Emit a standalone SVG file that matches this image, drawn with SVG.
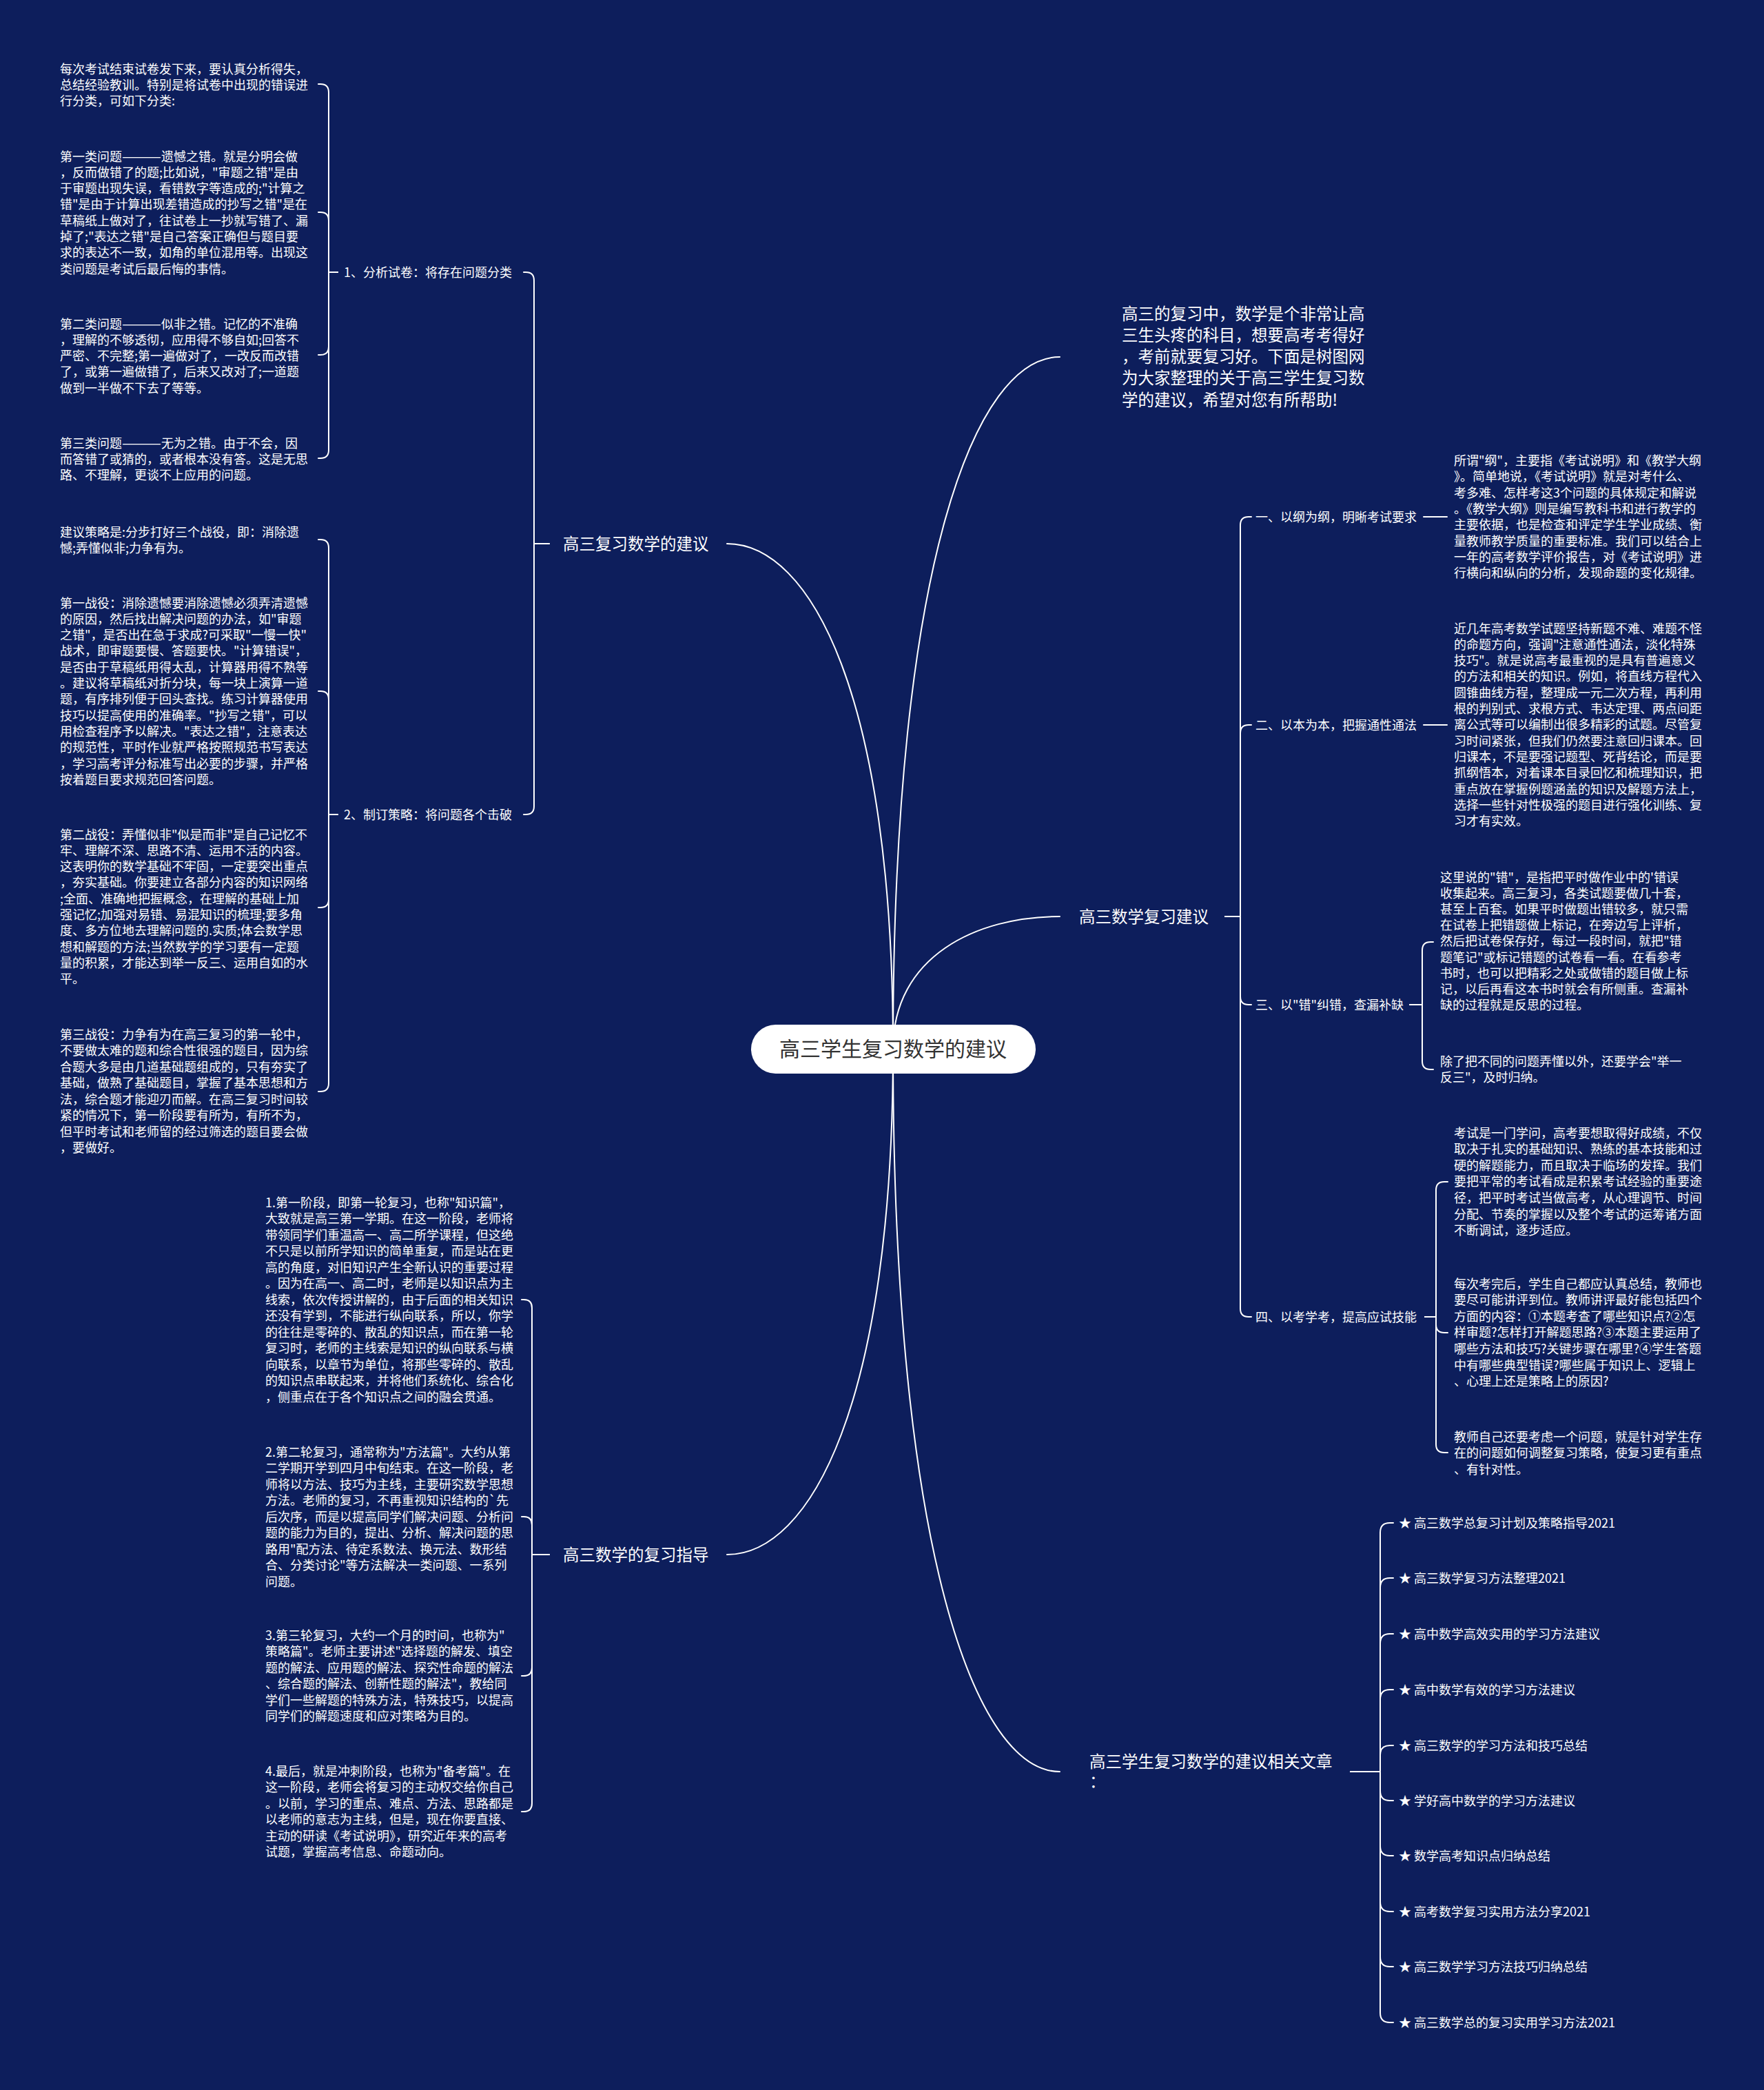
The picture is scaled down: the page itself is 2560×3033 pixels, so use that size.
<svg xmlns="http://www.w3.org/2000/svg" width="2560" height="3033" viewBox="0 0 2560 3033">
<style>
text{font-family:"Noto Sans CJK SC","Noto Sans",sans-serif;fill:#ffffff}
.s{font-size:18px}
.b{font-size:23.5px}
.c{font-size:30px;fill:#333333}
.ln{fill:none;stroke:#ffffff;stroke-width:2;stroke-linecap:round}
</style>
<rect width="2560" height="3033" fill="#0d1e5c"/>
<g id="connectors" class="ln">
<path d="M1296 1522 C1296 813 1417 518 1538 518"/>
<path d="M1296 1522 C1296 1009 1176 789 1055 789"/>
<path d="M1296 1522 C1296 1388 1417 1330 1538 1330"/>
<path d="M1296 1522 C1296 2036 1176 2256 1055 2256"/>
<path d="M1296 1522 C1296 2256 1417 2571 1538 2571"/>
<path d="M797 789 H775 V407 Q775 395 763 395 H760"/>
<path d="M797 789 H775 V1170 Q775 1182 763 1182 H760"/>
<path d="M490 395 H477 V134 Q477 122 465 122 H462"/>
<path d="M490 395 H477 V320 Q477 308 465 308 H462"/>
<path d="M490 395 H477 V503 Q477 515 465 515 H462"/>
<path d="M490 395 H477 V653 Q477 665 465 665 H462"/>
<path d="M490 1182 H477 V795 Q477 783 465 783 H462"/>
<path d="M490 1182 H477 V1015 Q477 1003 465 1003 H462"/>
<path d="M490 1182 H477 V1305 Q477 1317 465 1317 H462"/>
<path d="M490 1182 H477 V1572 Q477 1584 465 1584 H462"/>
<path d="M797 2256 H772 V1898 Q772 1886 760 1886 H757"/>
<path d="M797 2256 H772 V2213 Q772 2201 760 2201 H757"/>
<path d="M797 2256 H772 V2420 Q772 2432 760 2432 H757"/>
<path d="M797 2256 H772 V2617 Q772 2629 760 2629 H757"/>
<path d="M1778 1330 H1800 V762 Q1800 750 1812 750 H1816"/>
<path d="M1778 1330 H1800 V1064 Q1800 1052 1812 1052 H1816"/>
<path d="M1778 1330 H1800 V1446 Q1800 1458 1812 1458 H1816"/>
<path d="M1778 1330 H1800 V1899 Q1800 1911 1812 1911 H1816"/>
<path d="M2066 750 H2100"/>
<path d="M2066 1052 H2100"/>
<path d="M2046 1458 H2064 V1379 Q2064 1367 2076 1367 H2080"/>
<path d="M2046 1458 H2064 V1540 Q2064 1552 2076 1552 H2080"/>
<path d="M2068 1911 H2084 V1727 Q2084 1715 2096 1715 H2101"/>
<path d="M2068 1911 H2084 V1922 Q2084 1934 2096 1934 H2101"/>
<path d="M2068 1911 H2084 V2096 Q2084 2108 2096 2108 H2101"/>
<path d="M1960 2571 H2003 V2224 Q2003 2210 2017 2210 H2022"/>
<path d="M1960 2571 H2003 V2304 Q2003 2290 2017 2290 H2022"/>
<path d="M1960 2571 H2003 V2385 Q2003 2371 2017 2371 H2022"/>
<path d="M1960 2571 H2003 V2466 Q2003 2452 2017 2452 H2022"/>
<path d="M1960 2571 H2003 V2547 Q2003 2533 2017 2533 H2022"/>
<path d="M1960 2571 H2003 V2599 Q2003 2613 2017 2613 H2022"/>
<path d="M1960 2571 H2003 V2679 Q2003 2693 2017 2693 H2022"/>
<path d="M1960 2571 H2003 V2760 Q2003 2774 2017 2774 H2022"/>
<path d="M1960 2571 H2003 V2840 Q2003 2854 2017 2854 H2022"/>
<path d="M1960 2571 H2003 V2921 Q2003 2935 2017 2935 H2022"/>
</g>
<g id="root">
<rect x="1090" y="1487" width="413" height="71" rx="35.5" fill="#ffffff"/>
<text class="c" x="1296" y="1533" text-anchor="middle">高三学生复习数学的建议</text>
</g>
<g id="intro">
<text class="b" x="1628" y="463.5"><tspan x="1628">高三的复习中，数学是个非常让高</tspan><tspan x="1628" dy="31.3">三生头疼的科目，想要高考考得好</tspan><tspan x="1628" dy="31.3">，考前就要复习好。下面是树图网</tspan><tspan x="1628" dy="31.3">为大家整理的关于高三学生复习数</tspan><tspan x="1628" dy="31.3">学的建议，希望对您有所帮助!</tspan></text>
</g>
<g id="b1"><text class="b" x="817" y="797.5">高三复习数学的建议</text></g>
<g id="b1-1"><text class="s" x="499" y="401.5">1、分析试卷：将存在问题分类</text></g>
<g id="b1-1a"><text class="s" x="87" y="106.5"><tspan x="87">每次考试结束试卷发下来，要认真分析得失，</tspan><tspan x="87" dy="23.33">总结经验教训。特别是将试卷中出现的错误进</tspan><tspan x="87" dy="23.33">行分类，可如下分类:</tspan></text></g>
<g id="b1-1b"><text class="s" x="87" y="233.5"><tspan x="87">第一类问题<tspan textLength="57" lengthAdjust="spacingAndGlyphs">———</tspan>遗憾之错。就是分明会做</tspan><tspan x="87" dy="23.33">，反而做错了的题;比如说，"审题之错"是由</tspan><tspan x="87" dy="23.33">于审题出现失误，看错数字等造成的;"计算之</tspan><tspan x="87" dy="23.33">错"是由于计算出现差错造成的抄写之错"是在</tspan><tspan x="87" dy="23.33">草稿纸上做对了，往试卷上一抄就写错了、漏</tspan><tspan x="87" dy="23.33">掉了;"表达之错"是自己答案正确但与题目要</tspan><tspan x="87" dy="23.33">求的表达不一致，如角的单位混用等。出现这</tspan><tspan x="87" dy="23.33">类问题是考试后最后悔的事情。</tspan></text></g>
<g id="b1-1c"><text class="s" x="87" y="476.5"><tspan x="87">第二类问题<tspan textLength="57" lengthAdjust="spacingAndGlyphs">———</tspan>似非之错。记忆的不准确</tspan><tspan x="87" dy="23.33">，理解的不够透彻，应用得不够自如;回答不</tspan><tspan x="87" dy="23.33">严密、不完整;第一遍做对了，一改反而改错</tspan><tspan x="87" dy="23.33">了，或第一遍做错了，后来又改对了;一道题</tspan><tspan x="87" dy="23.33">做到一半做不下去了等等。</tspan></text></g>
<g id="b1-1d"><text class="s" x="87" y="649.5"><tspan x="87">第三类问题<tspan textLength="57" lengthAdjust="spacingAndGlyphs">———</tspan>无为之错。由于不会，因</tspan><tspan x="87" dy="23.33">而答错了或猜的，或者根本没有答。这是无思</tspan><tspan x="87" dy="23.33">路、不理解，更谈不上应用的问题。</tspan></text></g>
<g id="b1-2"><text class="s" x="499" y="1188.5">2、制订策略：将问题各个击破</text></g>
<g id="b1-2a"><text class="s" x="87" y="778.5"><tspan x="87">建议策略是:分步打好三个战役，即：消除遗</tspan><tspan x="87" dy="23.33">憾;弄懂似非;力争有为。</tspan></text></g>
<g id="b1-2b"><text class="s" x="87" y="881.5"><tspan x="87">第一战役：消除遗憾要消除遗憾必须弄清遗憾</tspan><tspan x="87" dy="23.33">的原因，然后找出解决问题的办法，如"审题</tspan><tspan x="87" dy="23.33">之错"，是否出在急于求成?可采取"一慢一快"</tspan><tspan x="87" dy="23.33">战术，即审题要慢、答题要快。"计算错误"，</tspan><tspan x="87" dy="23.33">是否由于草稿纸用得太乱，计算器用得不熟等</tspan><tspan x="87" dy="23.33">。建议将草稿纸对折分块，每一块上演算一道</tspan><tspan x="87" dy="23.33">题，有序排列便于回头查找。练习计算器使用</tspan><tspan x="87" dy="23.33">技巧以提高使用的准确率。"抄写之错"，可以</tspan><tspan x="87" dy="23.33">用检查程序予以解决。"表达之错"，注意表达</tspan><tspan x="87" dy="23.33">的规范性，平时作业就严格按照规范书写表达</tspan><tspan x="87" dy="23.33">，学习高考评分标准写出必要的步骤，并严格</tspan><tspan x="87" dy="23.33">按着题目要求规范回答问题。</tspan></text></g>
<g id="b1-2c"><text class="s" x="87" y="1217.5"><tspan x="87">第二战役：弄懂似非"似是而非"是自己记忆不</tspan><tspan x="87" dy="23.33">牢、理解不深、思路不清、运用不活的内容。</tspan><tspan x="87" dy="23.33">这表明你的数学基础不牢固，一定要突出重点</tspan><tspan x="87" dy="23.33">，夯实基础。你要建立各部分内容的知识网络</tspan><tspan x="87" dy="23.33">;全面、准确地把握概念，在理解的基础上加</tspan><tspan x="87" dy="23.33">强记忆;加强对易错、易混知识的梳理;要多角</tspan><tspan x="87" dy="23.33">度、多方位地去理解问题的.实质;体会数学思</tspan><tspan x="87" dy="23.33">想和解题的方法;当然数学的学习要有一定题</tspan><tspan x="87" dy="23.33">量的积累，才能达到举一反三、运用自如的水</tspan><tspan x="87" dy="23.33">平。</tspan></text></g>
<g id="b1-2d"><text class="s" x="87" y="1507.5"><tspan x="87">第三战役：力争有为在高三复习的第一轮中，</tspan><tspan x="87" dy="23.5">不要做太难的题和综合性很强的题目，因为综</tspan><tspan x="87" dy="23.5">合题大多是由几道基础题组成的，只有夯实了</tspan><tspan x="87" dy="23.5">基础，做熟了基础题目，掌握了基本思想和方</tspan><tspan x="87" dy="23.5">法，综合题才能迎刃而解。在高三复习时间较</tspan><tspan x="87" dy="23.5">紧的情况下，第一阶段要有所为，有所不为，</tspan><tspan x="87" dy="23.5">但平时考试和老师留的经过筛选的题目要会做</tspan><tspan x="87" dy="23.5">，要做好。</tspan></text></g>
<g id="b2"><text class="b" x="817" y="2264.5">高三数学的复习指导</text></g>
<g id="b2-1"><text class="s" x="385" y="1751.5"><tspan x="385">1.第一阶段，即第一轮复习，也称"知识篇"，</tspan><tspan x="385" dy="23.5">大致就是高三第一学期。在这一阶段，老师将</tspan><tspan x="385" dy="23.5">带领同学们重温高一、高二所学课程，但这绝</tspan><tspan x="385" dy="23.5">不只是以前所学知识的简单重复，而是站在更</tspan><tspan x="385" dy="23.5">高的角度，对旧知识产生全新认识的重要过程</tspan><tspan x="385" dy="23.5">。因为在高一、高二时，老师是以知识点为主</tspan><tspan x="385" dy="23.5">线索，依次传授讲解的，由于后面的相关知识</tspan><tspan x="385" dy="23.5">还没有学到，不能进行纵向联系，所以，你学</tspan><tspan x="385" dy="23.5">的往往是零碎的、散乱的知识点，而在第一轮</tspan><tspan x="385" dy="23.5">复习时，老师的主线索是知识的纵向联系与横</tspan><tspan x="385" dy="23.5">向联系，以章节为单位，将那些零碎的、散乱</tspan><tspan x="385" dy="23.5">的知识点串联起来，并将他们系统化、综合化</tspan><tspan x="385" dy="23.5">，侧重点在于各个知识点之间的融会贯通。</tspan></text></g>
<g id="b2-2"><text class="s" x="385" y="2113.5"><tspan x="385">2.第二轮复习，通常称为"方法篇"。大约从第</tspan><tspan x="385" dy="23.5">二学期开学到四月中旬结束。在这一阶段，老</tspan><tspan x="385" dy="23.5">师将以方法、技巧为主线，主要研究数学思想</tspan><tspan x="385" dy="23.5">方法。老师的复习，不再重视知识结构的`先</tspan><tspan x="385" dy="23.5">后次序，而是以提高同学们解决问题、分析问</tspan><tspan x="385" dy="23.5">题的能力为目的，提出、分析、解决问题的思</tspan><tspan x="385" dy="23.5">路用"配方法、待定系数法、换元法、数形结</tspan><tspan x="385" dy="23.5">合、分类讨论"等方法解决一类问题、一系列</tspan><tspan x="385" dy="23.5">问题。</tspan></text></g>
<g id="b2-3"><text class="s" x="385" y="2379.5"><tspan x="385">3.第三轮复习，大约一个月的时间，也称为"</tspan><tspan x="385" dy="23.5">策略篇"。老师主要讲述"选择题的解发、填空</tspan><tspan x="385" dy="23.5">题的解法、应用题的解法、探究性命题的解法</tspan><tspan x="385" dy="23.5">、综合题的解法、创新性题的解法"，教给同</tspan><tspan x="385" dy="23.5">学们一些解题的特殊方法，特殊技巧，以提高</tspan><tspan x="385" dy="23.5">同学们的解题速度和应对策略为目的。</tspan></text></g>
<g id="b2-4"><text class="s" x="385" y="2576.5"><tspan x="385">4.最后，就是冲刺阶段，也称为"备考篇"。在</tspan><tspan x="385" dy="23.5">这一阶段，老师会将复习的主动权交给你自己</tspan><tspan x="385" dy="23.5">。以前，学习的重点、难点、方法、思路都是</tspan><tspan x="385" dy="23.5">以老师的意志为主线，但是，现在你要直接、</tspan><tspan x="385" dy="23.5">主动的研读《考试说明》，研究近年来的高考</tspan><tspan x="385" dy="23.5">试题，掌握高考信息、命题动向。</tspan></text></g>
<g id="b3"><text class="b" x="1566" y="1338.5">高三数学复习建议</text></g>
<g id="b3-1"><text class="s" x="1822" y="756.5">一、以纲为纲，明晰考试要求</text></g>
<g id="b3-1a"><text class="s" x="2110" y="675"><tspan x="2110">所谓"纲"，主要指《考试说明》和《教学大纲</tspan><tspan x="2110" dy="23.3">》。简单地说，《考试说明》就是对考什么、</tspan><tspan x="2110" dy="23.3">考多难、怎样考这3个问题的具体规定和解说</tspan><tspan x="2110" dy="23.3">。《教学大纲》则是编写教科书和进行教学的</tspan><tspan x="2110" dy="23.3">主要依据，也是检查和评定学生学业成绩、衡</tspan><tspan x="2110" dy="23.3">量教师教学质量的重要标准。我们可以结合上</tspan><tspan x="2110" dy="23.3">一年的高考数学评价报告，对《考试说明》进</tspan><tspan x="2110" dy="23.3">行横向和纵向的分析，发现命题的变化规律。</tspan></text></g>
<g id="b3-2"><text class="s" x="1822" y="1058.5">二、以本为本，把握通性通法</text></g>
<g id="b3-2a"><text class="s" x="2110" y="918.5"><tspan x="2110">近几年高考数学试题坚持新题不难、难题不怪</tspan><tspan x="2110" dy="23.3">的命题方向，强调"注意通性通法，淡化特殊</tspan><tspan x="2110" dy="23.3">技巧"。就是说高考最重视的是具有普遍意义</tspan><tspan x="2110" dy="23.3">的方法和相关的知识。例如，将直线方程代入</tspan><tspan x="2110" dy="23.3">圆锥曲线方程，整理成一元二次方程，再利用</tspan><tspan x="2110" dy="23.3">根的判别式、求根方式、韦达定理、两点间距</tspan><tspan x="2110" dy="23.3">离公式等可以编制出很多精彩的试题。尽管复</tspan><tspan x="2110" dy="23.3">习时间紧张，但我们仍然要注意回归课本。回</tspan><tspan x="2110" dy="23.3">归课本，不是要强记题型、死背结论，而是要</tspan><tspan x="2110" dy="23.3">抓纲悟本，对着课本目录回忆和梳理知识，把</tspan><tspan x="2110" dy="23.3">重点放在掌握例题涵盖的知识及解题方法上，</tspan><tspan x="2110" dy="23.3">选择一些针对性极强的题目进行强化训练、复</tspan><tspan x="2110" dy="23.3">习才有实效。</tspan></text></g>
<g id="b3-3"><text class="s" x="1822" y="1464.5">三、以"错"纠错，查漏补缺</text></g>
<g id="b3-3a"><text class="s" x="2090" y="1279.5"><tspan x="2090">这里说的"错"，是指把平时做作业中的'错误</tspan><tspan x="2090" dy="23.2">收集起来。高三复习，各类试题要做几十套，</tspan><tspan x="2090" dy="23.2">甚至上百套。如果平时做题出错较多，就只需</tspan><tspan x="2090" dy="23.2">在试卷上把错题做上标记，在旁边写上评析，</tspan><tspan x="2090" dy="23.2">然后把试卷保存好，每过一段时间，就把"错</tspan><tspan x="2090" dy="23.2">题笔记"或标记错题的试卷看一看。在看参考</tspan><tspan x="2090" dy="23.2">书时，也可以把精彩之处或做错的题目做上标</tspan><tspan x="2090" dy="23.2">记，以后再看这本书时就会有所侧重。查漏补</tspan><tspan x="2090" dy="23.2">缺的过程就是反思的过程。</tspan></text></g>
<g id="b3-3b"><text class="s" x="2090" y="1546.5"><tspan x="2090">除了把不同的问题弄懂以外，还要学会"举一</tspan><tspan x="2090" dy="23.2">反三"，及时归纳。</tspan></text></g>
<g id="b3-4"><text class="s" x="1822" y="1917.5">四、以考学考，提高应试技能</text></g>
<g id="b3-4a"><text class="s" x="2110" y="1650.5"><tspan x="2110">考试是一门学问，高考要想取得好成绩，不仅</tspan><tspan x="2110" dy="23.6">取决于扎实的基础知识、熟练的基本技能和过</tspan><tspan x="2110" dy="23.6">硬的解题能力，而且取决于临场的发挥。我们</tspan><tspan x="2110" dy="23.6">要把平常的考试看成是积累考试经验的重要途</tspan><tspan x="2110" dy="23.6">径，把平时考试当做高考，从心理调节、时间</tspan><tspan x="2110" dy="23.6">分配、节奏的掌握以及整个考试的运筹诸方面</tspan><tspan x="2110" dy="23.6">不断调试，逐步适应。</tspan></text></g>
<g id="b3-4b"><text class="s" x="2110" y="1869.5"><tspan x="2110">每次考完后，学生自己都应认真总结，教师也</tspan><tspan x="2110" dy="23.6">要尽可能讲评到位。教师讲评最好能包括四个</tspan><tspan x="2110" dy="23.6">方面的内容：①本题考查了哪些知识点?②怎</tspan><tspan x="2110" dy="23.6">样审题?怎样打开解题思路?③本题主要运用了</tspan><tspan x="2110" dy="23.6">哪些方法和技巧?关键步骤在哪里?④学生答题</tspan><tspan x="2110" dy="23.6">中有哪些典型错误?哪些属于知识上、逻辑上</tspan><tspan x="2110" dy="23.6">、心理上还是策略上的原因?</tspan></text></g>
<g id="b3-4c"><text class="s" x="2110" y="2091.5"><tspan x="2110">教师自己还要考虑一个问题，就是针对学生存</tspan><tspan x="2110" dy="23.5">在的问题如何调整复习策略，使复习更有重点</tspan><tspan x="2110" dy="23.5">、有针对性。</tspan></text></g>
<g id="b4"><text class="b" x="1581" y="2564.5"><tspan x="1581">高三学生复习数学的建议相关文章</tspan><tspan x="1581" dy="29">：</tspan></text></g>
<g id="b4-1"><text class="s" x="2030" y="2216.5">★ 高三数学总复习计划及策略指导2021</text></g>
<g id="b4-2"><text class="s" x="2030" y="2296.5">★ 高三数学复习方法整理2021</text></g>
<g id="b4-3"><text class="s" x="2030" y="2377.5">★ 高中数学高效实用的学习方法建议</text></g>
<g id="b4-4"><text class="s" x="2030" y="2458.5">★ 高中数学有效的学习方法建议</text></g>
<g id="b4-5"><text class="s" x="2030" y="2539.5">★ 高三数学的学习方法和技巧总结</text></g>
<g id="b4-6"><text class="s" x="2030" y="2619.5">★ 学好高中数学的学习方法建议</text></g>
<g id="b4-7"><text class="s" x="2030" y="2699.5">★ 数学高考知识点归纳总结</text></g>
<g id="b4-8"><text class="s" x="2030" y="2780.5">★ 高考数学复习实用方法分享2021</text></g>
<g id="b4-9"><text class="s" x="2030" y="2860.5">★ 高三数学学习方法技巧归纳总结</text></g>
<g id="b4-10"><text class="s" x="2030" y="2941.5">★ 高三数学总的复习实用学习方法2021</text></g>
</svg>
